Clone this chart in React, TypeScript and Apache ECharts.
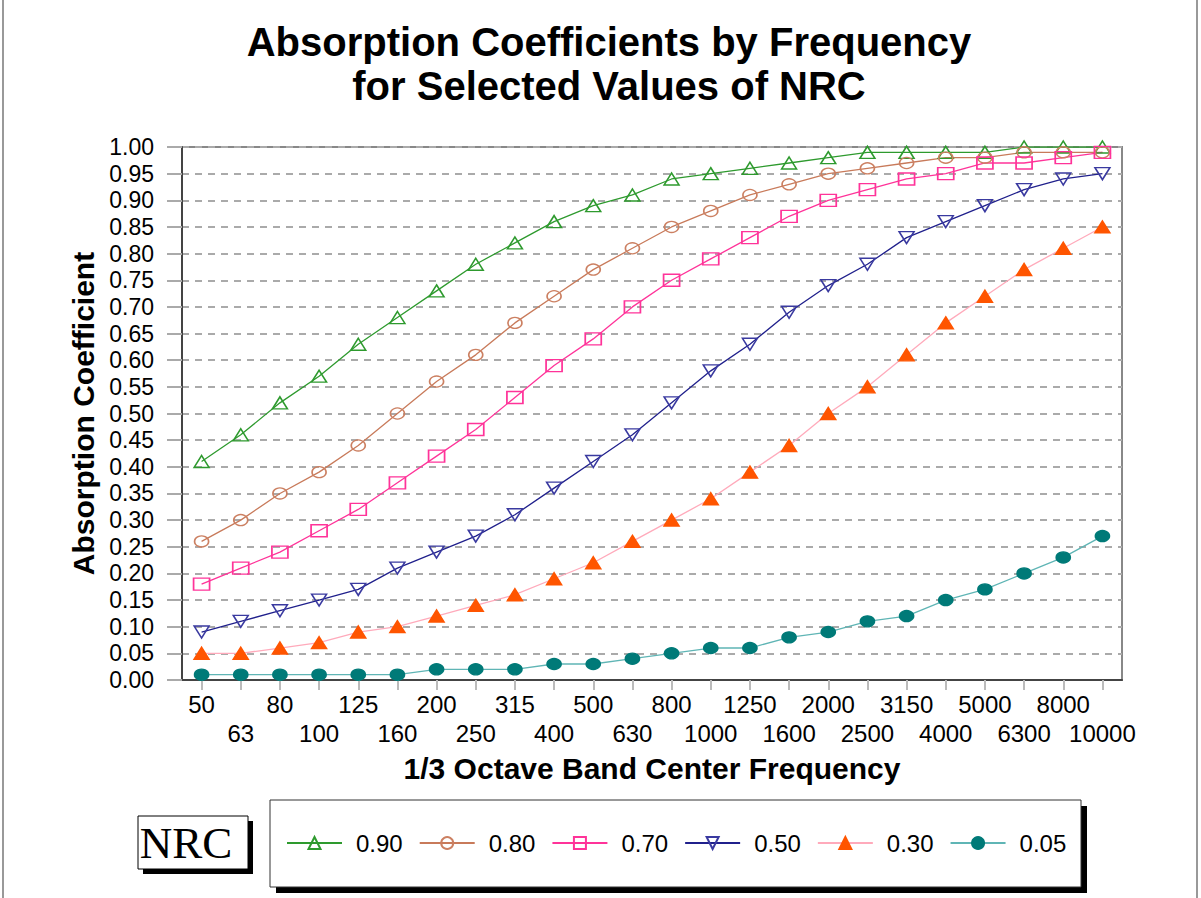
import React, { useEffect, useRef } from "react";
import * as echarts from "echarts";

const frequencies = ["50", "63", "80", "100", "125", "160", "200", "250", "315", "400", "500", "630", "800", "1000", "1250", "1600", "2000", "2500", "3150", "4000", "5000", "6300", "8000", "10000"];

const nrc090 = [0.41, 0.46, 0.52, 0.57, 0.63, 0.68, 0.73, 0.78, 0.82, 0.86, 0.89, 0.91, 0.94, 0.95, 0.96, 0.97, 0.98, 0.99, 0.99, 0.99, 0.99, 1.0, 1.0, 1.0];
const nrc080 = [0.26, 0.30, 0.35, 0.39, 0.44, 0.50, 0.56, 0.61, 0.67, 0.72, 0.77, 0.81, 0.85, 0.88, 0.91, 0.93, 0.95, 0.96, 0.97, 0.98, 0.98, 0.99, 0.99, 0.99];
const nrc070 = [0.18, 0.21, 0.24, 0.28, 0.32, 0.37, 0.42, 0.47, 0.53, 0.59, 0.64, 0.70, 0.75, 0.79, 0.83, 0.87, 0.90, 0.92, 0.94, 0.95, 0.97, 0.97, 0.98, 0.99];
const nrc050 = [0.09, 0.11, 0.13, 0.15, 0.17, 0.21, 0.24, 0.27, 0.31, 0.36, 0.41, 0.46, 0.52, 0.58, 0.63, 0.69, 0.74, 0.78, 0.83, 0.86, 0.89, 0.92, 0.94, 0.95];
const nrc030 = [0.05, 0.05, 0.06, 0.07, 0.09, 0.10, 0.12, 0.14, 0.16, 0.19, 0.22, 0.26, 0.30, 0.34, 0.39, 0.44, 0.50, 0.55, 0.61, 0.67, 0.72, 0.77, 0.81, 0.85];
const nrc005 = [0.01, 0.01, 0.01, 0.01, 0.01, 0.01, 0.02, 0.02, 0.02, 0.03, 0.03, 0.04, 0.05, 0.06, 0.06, 0.08, 0.09, 0.11, 0.12, 0.15, 0.17, 0.20, 0.23, 0.27];

const seriesNames = ["0.90", "0.80", "0.70", "0.50", "0.30", "0.05"];

const FONT = "'Liberation Sans', Arial, sans-serif";

export default function App() {
  const ref = useRef<HTMLDivElement>(null);

  useEffect(() => {
    if (!ref.current) return;
    const chart = echarts.init(ref.current, null, { renderer: "svg" });

    const mk = (
      name: string,
      data: number[],
      lineColor: string,
      symbol: string,
      size: number[],
      fill: string,
      border: string,
      rotate = 0
    ) => ({
      name,
      type: "line",
      data,
      symbol,
      symbolSize: size,
      symbolRotate: rotate,
      showAllSymbol: true,
      lineStyle: { color: lineColor, width: 1.3 },
      itemStyle: { color: fill, borderColor: border, borderWidth: 1.5 },
      emphasis: { disabled: true },
    });

    const option: any = {
      animation: false,
      backgroundColor: "#ffffff",
      title: {
        text: "Absorption Coefficients by Frequency\nfor Selected Values of NRC",
        left: 604,
        top: 15,
        textAlign: "center",
        padding: 5,
        textStyle: {
          fontFamily: FONT,
          fontWeight: "bold",
          fontSize: 40,
          lineHeight: 44,
          color: "#000",
        },
      },
      graphic: [
        { type: "rect", z: 0, shape: { x: 2, y: 0, width: 2, height: 898 }, style: { fill: "#999" } },
        { type: "rect", z: 0, shape: { x: 1196, y: 0, width: 2, height: 898 }, style: { fill: "#999" } },
        { type: "rect", z: 0, shape: { x: 276, y: 806, width: 811, height: 87 }, style: { fill: "#000" } },
        { type: "rect", z: 1, shape: { x: 270, y: 800, width: 811, height: 87 }, style: { fill: "#fff", stroke: "#333", lineWidth: 1 } },
        { type: "rect", z: 0, shape: { x: 143, y: 821, width: 110, height: 53 }, style: { fill: "#000" } },
        { type: "rect", z: 1, shape: { x: 138, y: 816, width: 110, height: 53 }, style: { fill: "#fff", stroke: "#000", lineWidth: 1 } },
        {
          type: "text",
          z: 2,
          x: 186,
          y: 843,
          style: {
            text: "NRC",
            fontFamily: "'Liberation Serif', 'Times New Roman', serif",
            fontSize: 45,
            fill: "#000",
            align: "center",
            verticalAlign: "middle",
          },
        },
      ],
      legend: {
        left: 281,
        top: 825,
        orient: "horizontal",
        itemWidth: 55,
        itemHeight: 15,
        itemGap: 16,
        data: seriesNames,
        textStyle: {
          fontFamily: FONT,
          fontSize: 24,
          lineHeight: 26,
          color: "#000",
          padding: [0, 0, 0, 9],
        },
        z: 5,
      },
      grid: {
        left: 182,
        right: 79,
        top: 147,
        bottom: 218,
        show: true,
        borderColor: "#888",
        borderWidth: 2,
        backgroundColor: "#fff",
      },
      xAxis: {
        type: "category",
        data: frequencies,
        boundaryGap: true,
        name: "1/3 Octave Band Center Frequency",
        nameLocation: "middle",
        nameGap: 73,
        nameTextStyle: {
          fontFamily: FONT,
          fontWeight: "bold",
          fontSize: 30,
          color: "#000",
          verticalAlign: "top",
        },
        axisLine: { show: true, lineStyle: { color: "#444", width: 2 } },
        axisTick: {
          show: true,
          alignWithLabel: true,
          interval: 0,
          length: 10,
          lineStyle: { color: "#bbb", width: 2 },
        },
        axisLabel: {
          interval: 0,
          margin: 10,
          fontFamily: FONT,
          fontSize: 24,
          lineHeight: 29,
          color: "#000",
          formatter: (v: string, i: number) => (i % 2 === 1 ? "\n" + v : v),
        },
        splitLine: { show: false },
      },
      yAxis: {
        type: "value",
        min: 0,
        max: 1,
        interval: 0.05,
        name: "Absorption Coefficient",
        nameLocation: "middle",
        nameGap: 83,
        nameRotate: 90,
        nameTextStyle: {
          fontFamily: FONT,
          fontWeight: "bold",
          fontSize: 30,
          color: "#000",
        },
        axisLine: { show: true, lineStyle: { color: "#444", width: 2 } },
        axisTick: { show: true, length: 15, lineStyle: { color: "#aaa", width: 2 } },
        axisLabel: {
          margin: 28,
          fontFamily: FONT,
          fontSize: 23,
          color: "#000",
          formatter: (v: number) => v.toFixed(2),
        },
        splitLine: {
          show: true,
          lineStyle: { color: "#aaaaaa", width: 2, type: [7, 6] },
        },
      },
      series: [
        mk("0.90", nrc090, "#2e9a2e", "triangle", [15, 12], "rgba(255,255,255,0)", "#2e9a2e"),
        mk("0.80", nrc080, "#c87a5a", "circle", [14, 11], "rgba(255,255,255,0)", "#cc8062"),
        mk("0.70", nrc070, "#ff3399", "rect", [16, 12], "rgba(255,255,255,0)", "#ff3399"),
        mk("0.50", nrc050, "#20208c", "triangle", [15, 12], "rgba(255,255,255,0)", "#3a3aa0", 180),
        mk("0.30", nrc030, "#ffaabb", "triangle", [15, 12], "#ff5500", "#ff5500"),
        mk("0.05", nrc005, "#5fb5b5", "circle", [14, 11], "#007a78", "#007a78"),
      ],
    };

    chart.setOption(option);
    return () => chart.dispose();
  }, []);

  return (
    <div
      ref={ref}
      style={{ position: "fixed", left: 0, top: 0, width: 1201, height: 898, background: "#fff" }}
    />
  );
}
